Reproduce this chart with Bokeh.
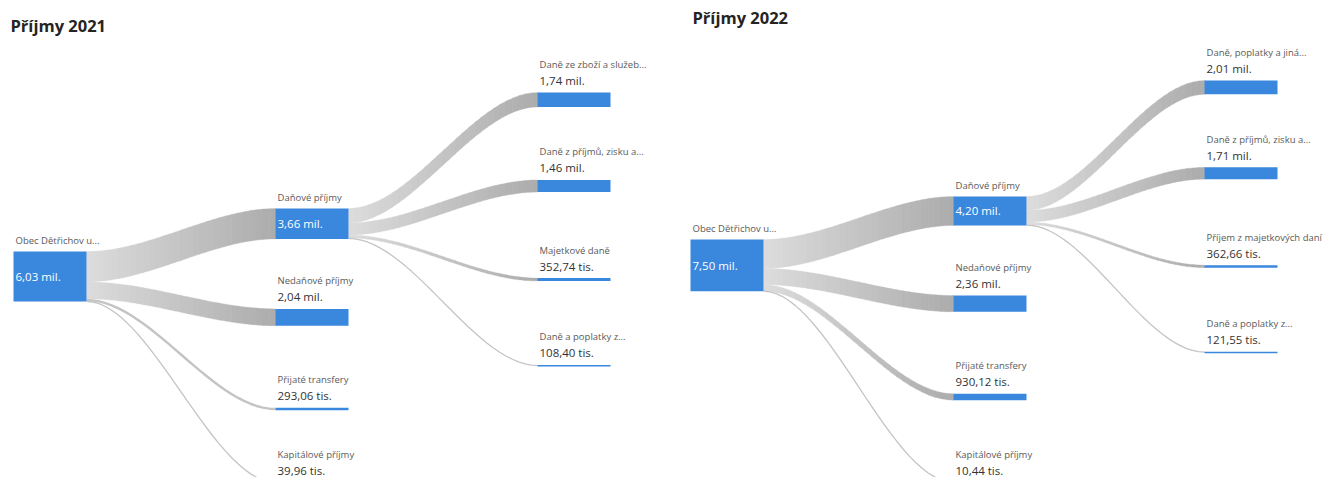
import numpy as np
from bokeh.plotting import figure
from bokeh.models import Range1d, ColumnDataSource
from bokeh.embed import file_html
from bokeh.resources import INLINE
from bokeh.core.properties import value

# ---------------- data (values in millions CZK) ----------------
TITLES = ["Příjmy 2021", "Příjmy 2022"]
ROOT_NAMES = ["Obec Dětřichov u...", "Obec Dětřichov u..."]
ROOT_VALUES = [6.03, 7.50]

L1_NAMES_2021 = ["Daňové příjmy", "Nedaňové příjmy", "Přijaté transfery", "Kapitálové příjmy"]
L1_VALUES_2021 = [3.66, 2.04, 0.29306, 0.03996]
L2_NAMES_2021 = ["Daně ze zboží a služeb...", "Daně z příjmů, zisku a...", "Majetkové daně", "Daně a poplatky z..."]
L2_VALUES_2021 = [1.74, 1.46, 0.35274, 0.10840]

L1_NAMES_2022 = ["Daňové příjmy", "Nedaňové příjmy", "Přijaté transfery", "Kapitálové příjmy"]
L1_VALUES_2022 = [4.20, 2.36, 0.93012, 0.01044]
L2_NAMES_2022 = ["Daně, poplatky a jiná...", "Daně z příjmů, zisku a...", "Příjem z majetkových daní", "Daně a poplatky z..."]
L2_VALUES_2022 = [2.01, 1.71, 0.36266, 0.12155]

# ---------------- layout / style ----------------
PANEL_X = [13, 690]          # left of root node
PANEL_DY = [0, -12]
TITLE_POS = [(10, 25), (692, 17)]
SCALE = [8.3, 6.9]           # px per million
COL_PITCH = [(262, 262), (263, 251)]
NODE_W = 73
ROOT_TOP = 251
L1_TOP = 208
L2_TOP = 92
L1_GAPS = [[70, 82, 72], [70, 82, 82]]
L2_GAPS = [73, 86, 84]
MIN_H = 1.6
BLUE = "#3a87de"
NAME_COLOR = "#5a5a5a"
VAL_COLOR = "#333333"
FONT = "Open Sans"

def fmt(v):
    if v >= 1:
        return f"{v:.2f}".replace(".", ",") + " mil."
    return f"{v * 1000:.2f}".replace(".", ",") + " tis."

p = figure(width=1328, height=477, x_range=Range1d(0, 1328), y_range=Range1d(477, 0),
           output_backend="svg", toolbar_location=None, min_border=0,
           x_axis_location=None, y_axis_location=None)
p.grid.visible = False
p.outline_line_color = None
p.background_fill_color = "white"

nodes = dict(left=[], right=[], top=[], bottom=[])
names = dict(x=[], y=[], text=[])
vals_out = dict(x=[], y=[], text=[])
vals_in = dict(x=[], y=[], text=[])
patch = dict(xs=[], ys=[], color=[])
thin = dict(xs=[], ys=[], w=[])

C0 = np.array([220, 220, 220])
C1 = np.array([172, 172, 172])

def add_link(x0, y0a, y0b, x1, y1a, y1b, n=30):
    t = np.linspace(0, 1, n + 1)
    xs = x0 + (x1 - x0) * t
    s = 3 * t ** 2 - 2 * t ** 3
    top = y0a + (y1a - y0a) * s
    bot = y0b + (y1b - y0b) * s
    th = y0b - y0a
    if th < 2.5:
        thin["xs"].append(list(xs))
        thin["ys"].append(list((top + bot) / 2))
        thin["w"].append(max(th, 1.3))
        return
    for i in range(n):
        tm = (t[i] + t[i + 1]) / 2
        c = C0 + (C1 - C0) * tm
        patch["xs"].append([xs[i], xs[i + 1] + 0.4, xs[i + 1] + 0.4, xs[i]])
        patch["ys"].append([top[i], top[i + 1], bot[i + 1], bot[i]])
        patch["color"].append("#%02x%02x%02x" % tuple(int(round(v)) for v in c))

def add_node(x, top, h, name, v):
    hh = max(h, MIN_H)
    nodes["left"].append(x); nodes["right"].append(x + NODE_W)
    nodes["top"].append(top); nodes["bottom"].append(top + hh)
    if h >= 25:
        names["x"].append(x + 2); names["y"].append(top - 11); names["text"].append(name)
        vals_in["x"].append(x + 2); vals_in["y"].append(top + h / 2); vals_in["text"].append(fmt(v))
    else:
        names["x"].append(x + 2); names["y"].append(top - 28); names["text"].append(name)
        vals_out["x"].append(x + 2); vals_out["y"].append(top - 12); vals_out["text"].append(fmt(v))

def column_tops(start, heights, gaps):
    tops = [start]
    for h, g in zip(heights[:-1], gaps):
        tops.append(tops[-1] + h + g)
    return tops

panels = [
    (L1_NAMES_2021, L1_VALUES_2021, L2_NAMES_2021, L2_VALUES_2021),
    (L1_NAMES_2022, L1_VALUES_2022, L2_NAMES_2022, L2_VALUES_2022),
]

for k, (l1n, l1v, l2n, l2v) in enumerate(panels):
    sc = SCALE[k]
    dy = PANEL_DY[k]
    x0 = PANEL_X[k]
    x1 = x0 + COL_PITCH[k][0]
    x2 = x1 + COL_PITCH[k][1]
    rt = ROOT_TOP + dy
    rh = ROOT_VALUES[k] * sc
    add_node(x0, rt, rh, ROOT_NAMES[k], ROOT_VALUES[k])

    h1 = [v * sc for v in l1v]
    t1 = column_tops(L1_TOP + dy, h1, L1_GAPS[k])
    cum = rt
    for name, v, h, t in zip(l1n, l1v, h1, t1):
        add_link(x0 + NODE_W, cum, cum + h, x1, t, t + h)
        cum += h
        add_node(x1, t, h, name, v)

    h2 = [v * sc for v in l2v]
    t2 = column_tops(L2_TOP + dy, h2, L2_GAPS)
    cum = t1[0]
    for name, v, h, t in zip(l2n, l2v, h2, t2):
        add_link(x1 + NODE_W, cum, cum + h, x2, t, t + h)
        cum += h
        add_node(x2, t, h, name, v)

p.patches(xs="xs", ys="ys", fill_color="color", line_color="color", line_width=0.3,
          source=ColumnDataSource(patch))
p.multi_line(xs="xs", ys="ys", line_width="w", line_color="#c4c4c4", source=ColumnDataSource(thin))
p.quad(left="left", right="right", top="top", bottom="bottom", fill_color=BLUE,
       line_color=None, source=ColumnDataSource(nodes))

p.text(x="x", y="y", text="text", source=ColumnDataSource(names), text_font=value(FONT),
       text_font_size="9.5px", text_color=NAME_COLOR, text_baseline="middle", text_align="left")
p.text(x="x", y="y", text="text", source=ColumnDataSource(vals_out), text_font=value(FONT),
       text_font_size="11.5px", text_color=VAL_COLOR, text_baseline="middle", text_align="left")
p.text(x="x", y="y", text="text", source=ColumnDataSource(vals_in), text_font=value(FONT),
       text_font_size="11.5px", text_color="white", text_baseline="middle", text_align="left")

tx = [pos[0] for pos in TITLE_POS]
ty = [pos[1] for pos in TITLE_POS]
p.text(x=tx, y=ty, text=TITLES, text_font=value(FONT), text_font_size="16.5px",
       text_font_style="bold", text_color="#252423", text_baseline="middle", text_align="left")

open("out.html", "w").write(file_html(p, INLINE))
